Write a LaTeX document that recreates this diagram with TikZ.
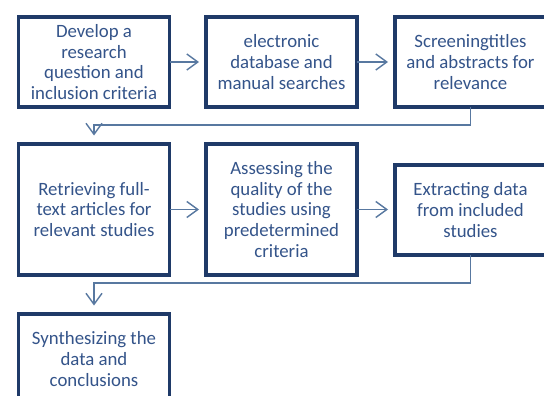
\documentclass[tikz,border=0pt]{standalone}
\usepackage{fontspec}
\setmainfont{Carlito}
\usetikzlibrary{arrows.meta}
\definecolor{boxline}{HTML}{1F3A68}
\definecolor{boxtext}{HTML}{34548A}
\definecolor{linkline}{HTML}{5878A0}
\begin{document}
\begin{tikzpicture}[x=1pt,y=-1pt,
  stepbox/.style={draw=boxline, line width=3.5pt, fill=white, rectangle,
    minimum width=151pt, inner sep=0pt, outer sep=0pt, align=center,
    text=boxtext, font=\fontsize{18.8}{20.7}\selectfont},
  link/.style={draw=linkline, line width=1.4pt,
    -{Straight Barb[length=11pt,width=16pt,line width=1.4pt]}}]
\useasboundingbox (0,0) rectangle (544,396);
\clip (0,0) rectangle (544,396);

% first row
\node[stepbox, minimum height=90pt] (b1) at (94,62)
  {Develop a\\research\\question and\\inclusion criteria};
\node[stepbox, minimum height=90pt] (b2) at (281.5,62)
  {electronic\\database and\\manual searches};
\node[stepbox, minimum height=90pt] (b3) at (470.5,62)
  {Screeningtitles\\and abstracts for\\relevance};

% second row
\node[stepbox, minimum height=131pt] (b4) at (94,209.5)
  {Retrieving full-\\text articles for\\relevant studies};
\node[stepbox, minimum height=131pt] (b5) at (281.5,209.5)
  {Assessing the\\quality of the\\studies using\\predetermined\\criteria};
\node[stepbox, minimum height=90pt] (b6) at (470.5,210)
  {Extracting data\\from included\\studies};

% last step
\node[stepbox, minimum height=90pt] (b7) at (94,359)
  {Synthesizing the\\data and\\conclusions};

% links between steps
\draw[link, shorten >=7pt] (b1.east) -- (b2.west);
\draw[link, shorten >=7pt] (b2.east) -- (b3.west);
\draw[link, shorten >=8.5pt] (b3.south) -- ++(0,18) -| (b4.north);
\draw[link, shorten >=7pt] (b4.east |- b5.west) -- (b5.west);
\draw[link, shorten >=7pt] (b5.east) -- (b6.west |- b5.east);
\draw[link, shorten >=8.5pt] (b6.south) -- ++(0,28) -| (b7.north);
\end{tikzpicture}
\end{document}
